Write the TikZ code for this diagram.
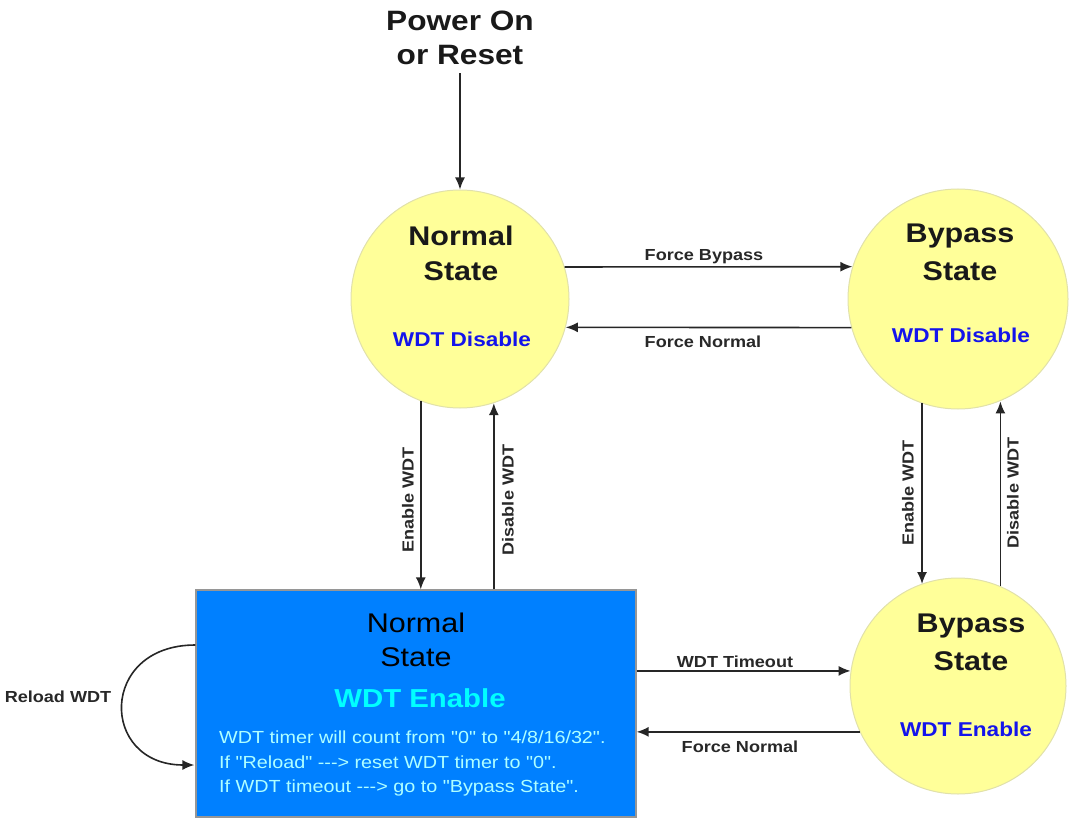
\documentclass[tikz,border=0pt]{standalone}
\usepackage{fontspec}
\setmainfont{Liberation Sans}[FakeStretch=1.13, Ligatures=TeXOff]
\usetikzlibrary{arrows.meta,calc}
\definecolor{circfill}{RGB}{255,255,153}
\definecolor{circdraw}{RGB}{225,225,170}
\definecolor{rectfill}{RGB}{0,128,255}
\definecolor{rectdraw}{RGB}{150,150,150}
\definecolor{wdtblue}{RGB}{20,20,235}
\definecolor{wdtcyan}{RGB}{0,255,255}
\definecolor{bodycyan}{RGB}{175,255,255}
\definecolor{lblgray}{RGB}{40,40,40}
\tikzset{
  statecirc/.style={circle, fill=circfill, draw=circdraw, line width=1pt, inner sep=0pt},
  bigtitle/.style={font=\bfseries\fontsize{27}{31}\selectfont, text=black!90, align=center},
  disabletxt/.style={font=\bfseries\fontsize{20}{24}\selectfont, text=wdtblue},
  lbl/.style={font=\bfseries\fontsize{16}{18}\selectfont, text=lblgray, inner sep=0pt},
  arr/.style={-{Latex[length=12pt,width=10pt]}, line width=1.6pt, draw=black!85},
  bodytxt/.style={font=\fontsize{17.5}{24.5}\selectfont, text=bodycyan, inner sep=0pt, anchor=west}
}
\begin{document}
\begin{tikzpicture}[x=1pt,y=-1pt]
\useasboundingbox (0,0) rectangle (1070,818);
% title
\node[font=\bfseries\fontsize{28}{34}\selectfont, align=center, text=black!90] (title) at (460,38) {Power On\\or Reset};
% states
\node[statecirc, minimum size=218pt] (c1) at (460,299) {};
\node[statecirc, minimum size=220pt] (c2) at (958,299) {};
\node[statecirc, minimum size=216pt] (c3) at (958,686) {};
\node[rectangle, fill=rectfill, draw=rectdraw, line width=1.2pt, minimum width=440pt, minimum height=227pt, inner sep=0pt] (r) at (416,703.5) {};
% circle texts
\node[bigtitle] (c1a) at (461,236) {Normal};
\node[bigtitle] (c1b) at (461,271) {State};
\node[disabletxt] (c1c) at (462,339) {WDT Disable};
\node[bigtitle] (c2a) at (960,236) {Bypass};
\node[bigtitle] (c2b) at (960,271) {State};
\node[disabletxt] (c2c) at (961,335) {WDT Disable};
\node[bigtitle] (c3a) at (971,626) {Bypass};
\node[bigtitle] (c3b) at (971,661) {State};
\node[disabletxt] (c3c) at (966,729) {WDT Enable};
% rect texts
\node[font=\fontsize{27}{31}\selectfont, text=black] (ra) at (416,623) {Normal};
\node[font=\fontsize{27}{31}\selectfont, text=black] (rb) at (416,657) {State};
\node[font=\bfseries\fontsize{26}{30}\selectfont, text=wdtcyan] (rc) at (420,698) {WDT Enable};
\node[bodytxt] (rd) at (219,737) {WDT timer will count from "0" to "4/8/16/32".};
\node[bodytxt] (re) at (219,762.5) {If "Reload" ---> reset WDT timer to "0".};
\node[bodytxt] (rf) at (219,787.5) {If WDT timeout ---> go to "Bypass State".};
% arrows
\draw[arr] ([yshift=-5pt]title.south) -- (c1.north);
\draw[arr] (c1.17) -- (c2.163);
\draw[arr] (c2.195) -- (c1.-15);
\draw[arr] (c1.249) -- (c1.249 |- r.north);
\draw[arr] (c1.288.5 |- r.north) -- (c1.288.5);
\draw[arr] (c2.251) -- (c2.251 |- c3.110);
\draw[arr] (c3.67) -- (c3.67 |- c2.292.5);
\draw[arr] (r.east |- c3.172.6) -- (c3.172.6);
\draw[arr] (c3.205.8) -- (r.east |- c3.205.8);
\coordinate (la) at ($(r.west)+(0,-58.5)$);
\coordinate (lb) at ($(r.west)+(-1,61.5)$);
\draw[arr] (la) .. controls ($(la)+(-97,0)$) and ($(lb)+(-95,0)$) .. (lb);
% labels
\node[lbl] (l1) at (704,257) {Force Bypass};
\node[lbl] (l2) at (703,342) {Force Normal};
\node[lbl] (l3) at (735,662) {WDT Timeout};
\node[lbl] (l4) at (740,747) {Force Normal};
\node[lbl] (l5) at (58,697) {Reload WDT};
\node[lbl, rotate=90] (l6) at (408,500) {Enable WDT};
\node[lbl, rotate=90] (l7) at (508,500) {Disable WDT};
\node[lbl, rotate=90] (l8) at (908,493) {Enable WDT};
\node[lbl, rotate=90] (l9) at (1013,493) {Disable WDT};
\end{tikzpicture}
\end{document}
